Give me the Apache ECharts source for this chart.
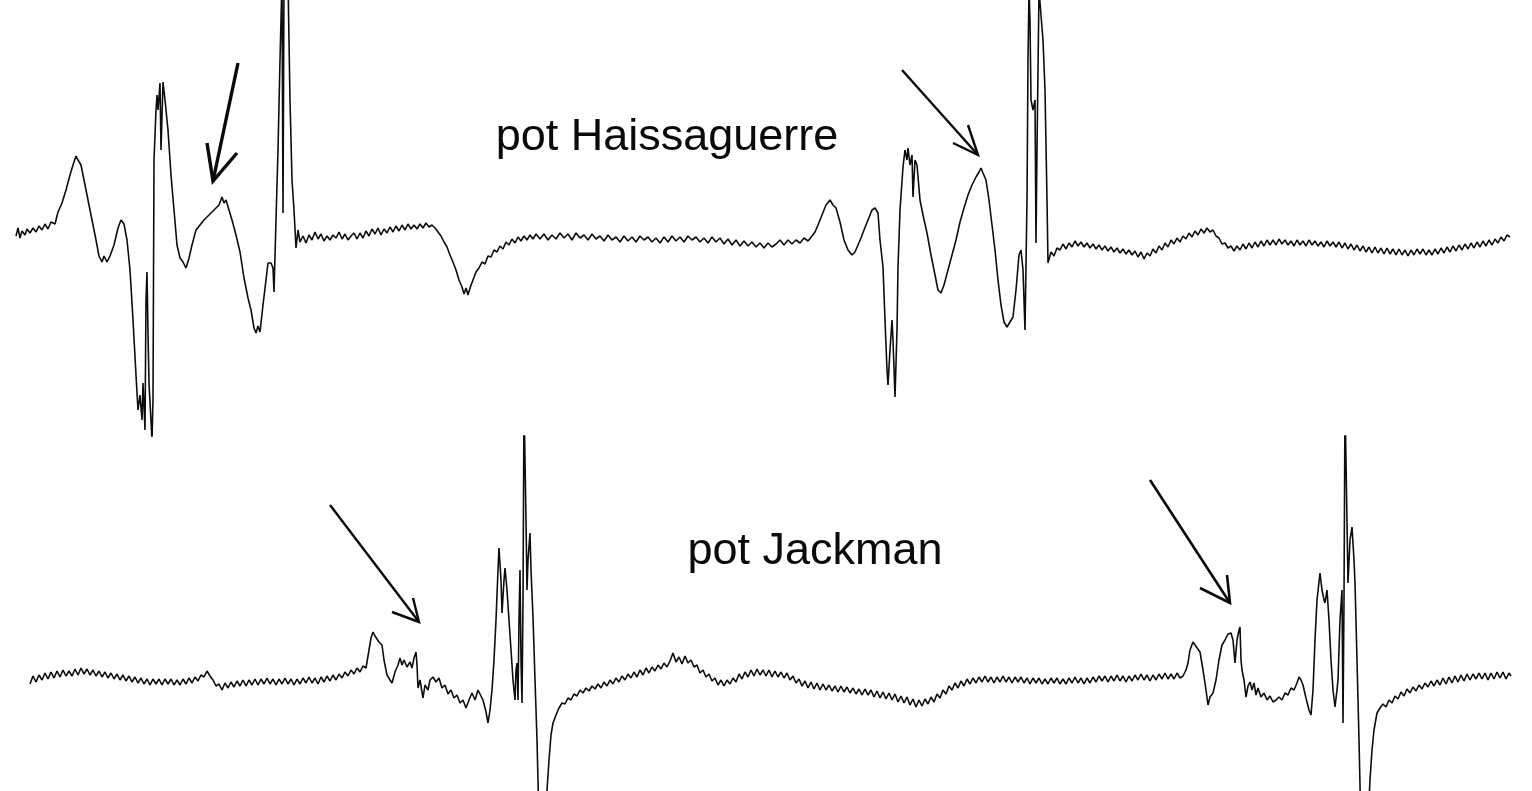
<!DOCTYPE html>
<html>
<head>
<meta charset="utf-8">
<script src="https://cdn.jsdelivr.net/npm/echarts@6/dist/echarts.min.js"></script>
<style>html,body{margin:0;padding:0;background:#fff;}#c{width:1532px;height:791px;}</style>
</head>
<body>
<div id="c"></div>
<script>
// Trace 1 ("pot Haissaguerre"): [time, amplitude]
const haissaguerre = [
[16,0],[18,8],[20,-2],[22,5],[25,1],[27,7],[30,3],[33,8],[36,4],[39,10],[42,6],[45,12],[48,7],[51,14],[55,12],
[58,24],[62,33],[66,46],[70,61],[73,71],[76,80],[78,76],[81,71],[84,56],[88,36],[92,16],[96,-4],[99,-20],[102,-26],[104,-20],[107,-26],[110,-20],[114,-9],[118,8],[121,16],[124,12],[127,-4],[130,-34],[133,-84],[136,-139],[138,-174],[140,-159],[142,-184],[143,-147],[144,-147],[145,-194],[146,-64],[147,-36],[148,-97],[149,-147],[151,-147],[152,-204],[153,-164],[154,76],[156,126],[157,141],[158,126],[160,153],[161,86],[163,154],[165,136],[168,106],[171,61],[174,26],[177,-9],[180,-22],[183,-26],[186,-32],[189,-22],[192,-9],[196,6],[200,11],[204,16],[208,20],[212,24],[216,28],[219,31],[222,39],[224,33],[226,36],[229,26],[232,16],[236,1],[240,-16],[244,-42],[248,-62],[251,-74],[254,-92],[256,-97],[258,-90],[260,-96],[263,-69],[266,-44],[268,-27],[271,-27],[273,-32],[274,-56],[276,16],[278,86],[280,176],[282,256],[283,23],[284,256],[286,256],[288,256],[290,136],[292,56],[294,26],[296,-12],[298,6],[300,-6],
[303,0],[306,-7],[309,1],[312,-4],[315,4],[318,-3],[321,2],[324,-5],[327,0],[330,-4],[333,1],[336,-2],[339,4],[342,-3],[345,2],[348,-4],[351,0],[354,3],[357,-3],[360,3],[363,-2],[366,5],[369,0],[372,7],[375,2],[378,8],[381,1],[384,7],[387,3],[390,9],[393,4],[396,10],[399,5],[402,11],[405,6],[408,12],[411,7],[414,11],[417,7],[420,12],[423,8],[426,13],[429,9],[432,11],[435,8],[438,4],[441,0],[444,-6],[447,-11],[450,-19],[453,-26],[456,-34],[459,-44],[462,-51],[464,-58],[466,-52],[468,-59],[470,-52],[473,-44],[476,-36],[479,-32],[482,-26],[485,-28],[488,-20],[491,-21],[494,-14],[497,-16],[500,-10],[503,-13],[506,-6],[509,-9],[512,-3],[515,-7],[518,-1],[521,-5],[524,0],[527,-4],[530,1],[533,-3],[536,2],
[540,-3],[544,2],[548,-4],[552,1],[556,-3],[560,3],[564,-2],[568,2],[572,-4],[576,3],[580,-2],[584,1],[588,-4],[592,2],[596,-3],[600,0],[604,-5],[608,1],[612,-4],[616,-1],[620,-6],[624,0],[628,-5],[632,-1],[636,-6],[640,0],[644,-4],[648,-1],[652,-6],[656,-2],[660,-7],[664,-1],[668,-6],[672,0],[676,-5],[680,-1],[684,-6],[688,0],[692,-4],[696,-1],[700,-6],[704,-2],[708,-7],[712,-1],[716,-6],[720,-2],[724,-8],[728,-3],[732,-9],[736,-4],[740,-10],[744,-5],[748,-10],[752,-6],[756,-11],[760,-7],[764,-12],[768,-7],[772,-11],[776,-8],[780,-4],[784,-9],[788,-4],[792,-8],[796,-4],[800,-7],[804,-2],[808,-5],[812,0],
[815,4],[818,11],[822,21],[826,31],[830,36],[833,31],[836,28],[840,14],[844,-4],[848,-14],[852,-19],[855,-16],[858,-9],[861,-2],[864,6],[868,16],[872,26],[875,28],[878,23],[880,-4],[883,-31],[885,-84],[887,-134],[888,-149],[890,-114],[892,-84],[893,-104],[895,-161],[897,-94],[898,-31],[900,26],[903,69],[905,86],[907,76],[908,88],[910,71],[912,81],[913,39],[915,76],[917,71],[920,36],[923,21],[927,3],[931,-19],[935,-39],[938,-54],[941,-57],[944,-49],[948,-34],[952,-19],[956,-4],[960,14],[964,28],[968,41],[972,51],[976,59],[979,64],[981,68],[983,63],[986,56],[989,36],[992,11],[995,-14],[998,-44],[1001,-69],[1004,-86],[1007,-91],[1010,-86],[1013,-81],[1016,-54],[1019,-19],[1021,-14],[1023,-34],[1025,-94],[1027,36],[1028,176],[1029,246],[1030,216],[1031,136],[1033,126],[1035,136],[1036,-7],[1037,86],[1039,246],[1041,246],[1043,196],[1045,146],[1047,36],[1048,-27],
[1051,-16],[1054,-20],[1057,-12],[1060,-14],[1063,-8],[1066,-13],[1069,-7],[1072,-11],[1075,-5],[1078,-10],[1081,-6],[1084,-11],[1087,-7],[1090,-12],[1093,-8],[1096,-13],[1099,-9],[1102,-14],[1105,-10],[1108,-15],[1111,-11],[1114,-16],[1117,-12],[1120,-17],[1123,-13],[1126,-18],[1129,-14],[1132,-19],[1135,-15],[1138,-21],[1141,-16],[1144,-23],[1147,-17],[1150,-20],[1153,-13],[1156,-17],[1159,-10],[1162,-14],[1165,-7],[1168,-11],[1171,-4],[1174,-8],[1177,-2],[1180,-6],[1183,0],[1186,-3],[1189,3],[1192,-1],[1195,5],[1198,1],[1201,7],[1204,3],[1207,8],[1210,4],[1213,6],[1216,0],[1219,-2],[1222,-8],[1225,-7],[1228,-12],[1231,-10],[1234,-15],[1237,-10],[1240,-14],[1243,-8],[1246,-13],[1249,-7],[1252,-12],[1255,-6],[1258,-11],[1261,-5],[1264,-10],[1267,-4],[1270,-9],[1273,-4],[1276,-9],[1279,-3],[1282,-8],[1285,-4],[1288,-9],[1291,-5],[1294,-10],[1297,-4],[1300,-9],[1303,-5],[1306,-10],[1309,-4],[1312,-9],[1315,-5],[1318,-10],[1321,-6],[1324,-11],[1327,-5],[1330,-10],[1333,-6],[1336,-11],[1339,-6],[1342,-12],[1345,-7],[1348,-13],[1351,-8],[1354,-14],[1357,-9],[1360,-15],[1363,-10],[1366,-16],[1369,-11],[1372,-17],[1375,-11],[1378,-17],[1381,-12],[1384,-18],[1387,-12],[1390,-18],[1393,-13],[1396,-19],[1399,-13],[1402,-19],[1405,-14],[1408,-20],[1411,-14],[1414,-19],[1417,-13],[1420,-18],[1423,-13],[1426,-19],[1429,-14],[1432,-19],[1435,-13],[1438,-18],[1441,-12],[1444,-17],[1447,-11],[1450,-16],[1453,-10],[1456,-15],[1459,-9],[1462,-14],[1465,-8],[1468,-13],[1471,-7],[1474,-12],[1477,-6],[1480,-11],[1483,-5],[1486,-10],[1489,-4],[1492,-9],[1495,-3],[1498,-7],[1501,-1],[1504,-5],[1507,1],[1510,-1]
];

// Trace 2 ("pot Jackman"): [time, amplitude]
const jackman = [
[30,-4],[33,4],[36,-2],[39,5],[42,0],[45,7],[48,1],[51,8],[54,2],[57,9],[60,3],[63,10],[66,4],[69,9],[72,4],[75,11],[78,5],[81,12],[84,6],[87,11],[90,5],[93,10],[96,4],[99,9],[102,3],[105,8],[108,2],[111,7],[114,1],[117,6],[120,0],[123,5],[126,-1],[129,4],[132,-2],[135,3],[138,-3],[141,2],[144,-4],[147,1],[150,-5],[153,1],[156,-4],[159,1],[162,-5],[165,1],[168,-4],[171,1],[174,-5],[177,0],[180,-5],[183,1],[186,-4],[189,2],[192,-3],[195,3],[198,-1],[201,5],[204,3],[207,9],[210,4],[213,0],[216,-6],[219,-4],[222,-10],[225,-3],[228,-8],[231,-2],[234,-7],[237,-1],[240,-6],[243,0],[246,-6],[249,0],[252,-5],[255,1],[258,-5],[261,1],[264,-4],[267,2],[270,-4],[273,1],[276,-5],[279,1],[282,-4],[285,2],[288,-4],[291,1],[294,-5],[297,1],[300,-4],[303,2],[306,-3],[309,3],[312,-3],[315,2],[318,-4],[321,3],[324,-2],[327,4],[330,-1],[333,5],[336,0],[339,6],[342,2],[345,8],[348,4],[351,10],[354,6],[357,12],[360,8],[363,14],[366,12],
[369,30],[371,42],[373,48],[375,44],[377,46],[379,38],[382,35],[384,20],[387,5],[390,0],[392,-3],[395,8],[398,15],[400,22],[402,15],[404,20],[407,13],[410,18],[412,12],[414,22],[416,28],[417,15],[418,-8],[420,0],[423,-18],[425,-5],[428,-10],[430,0],[433,3],[436,-2],[439,2],[442,-8],[445,-5],[448,-14],[451,-10],[454,-18],[457,-15],[460,-23],[463,-20],[466,-28],[469,-20],[472,-13],[475,-20],[478,-10],[480,-12],[483,-20],[486,-32],[488,-43],[490,-30],[492,-10],[494,20],[496,60],[498,110],[499,132],[501,100],[502,67],[504,100],[505,112],[507,90],[509,60],[511,30],[513,0],[515,-20],[516,10],[517,17],[518,-20],[519,60],[520,110],[521,20],[522,-23],[523,80],[524,280],[525,280],[526,160],[527,90],[528,120],[530,147],[531,110],[533,63],[535,0],[537,-60],[539,-140],[541,-150],[543,-140],[545,-150],[547,-110],[549,-80],[551,-55],[553,-43],[556,-35],[559,-28],[562,-23],[565,-24],[568,-18],[571,-20],[574,-14],[577,-16],[580,-10],[583,-13],[586,-8],[589,-11],[592,-6],[595,-9],[598,-4],[601,-8],[604,-2],[607,-6],[610,0],[613,-4],[616,2],[619,-2],[622,4],[625,0],[628,6],[631,2],[634,8],[637,3],[640,10],[643,5],[646,12],[649,7],[652,13],[655,9],[658,15],[661,11],[664,17],[667,13],[670,19],[673,27],[676,18],[679,23],[682,16],[685,24],[688,17],[691,20],[694,13],[697,15],[700,7],[703,10],[706,3],[709,6],[712,-1],[715,2],[718,-5],[721,0],[724,-6],[727,0],[730,-4],[733,2],[736,-2],[739,6],[742,1],[745,8],[748,3],[751,10],[754,4],[757,11],[760,5],[763,10],[766,4],[769,10],[772,3],[775,9],[778,3],[781,8],[784,2],[787,7],[790,0],[793,4],[796,-3],[799,1],[802,-6],[805,-1],[808,-8],[811,-2],[814,-9],[817,-3],[820,-10],[823,-4],[826,-10],[829,-5],[832,-11],[835,-6],[838,-12],[841,-6],[844,-12],[847,-7],[850,-13],[853,-8],[856,-14],[859,-9],[862,-15],[865,-9],[868,-15],[871,-10],[874,-17],[877,-11],[880,-18],[883,-12],[886,-19],[889,-13],[892,-20],[895,-14],[898,-22],[901,-16],[904,-23],[907,-17],[910,-25],[913,-19],[916,-27],[919,-20],[922,-26],[925,-19],[928,-24],[931,-17],[934,-22],[937,-14],[940,-18],[943,-10],[946,-14],[949,-6],[952,-10],[955,-3],[958,-8],[961,-1],[964,-6],[967,1],[970,-4],[973,2],[976,-3],[979,3],[982,-2],[985,4],[988,-2],[991,3],[994,-3],[997,3],[1000,-2],[1003,4],[1006,-2],[1009,3],[1012,-3],[1015,3],[1018,-2],[1021,3],[1024,-3],[1027,2],[1030,-4],[1033,2],[1036,-3],[1039,2],[1042,-4],[1045,1],[1048,-4],[1051,2],[1054,-3],[1057,2],[1060,-4],[1063,1],[1066,-4],[1069,2],[1072,-3],[1075,3],[1078,-3],[1081,2],[1084,-4],[1087,2],[1090,-3],[1093,3],[1096,-2],[1099,4],[1102,-1],[1105,4],[1108,-2],[1111,4],[1114,-1],[1117,5],[1120,-1],[1123,4],[1126,-2],[1129,4],[1132,-1],[1135,5],[1138,0],[1141,6],[1144,0],[1147,5],[1150,-1],[1153,5],[1156,0],[1159,6],[1162,1],[1165,7],[1168,1],[1171,6],[1174,1],[1177,7],[1180,2],[1183,4],[1186,10],
[1188,17],[1190,30],[1193,38],[1195,35],[1197,37],[1200,28],[1203,10],[1206,-10],[1208,-25],[1210,-17],[1213,-13],[1216,0],[1219,20],[1222,35],[1225,40],[1228,46],[1231,47],[1233,40],[1235,17],[1237,40],[1239,50],[1240,53],[1241,20],[1242,10],[1244,0],[1246,-17],[1248,-6],[1250,-2],[1252,-10],[1254,-3],[1256,-15],[1258,-8],[1261,-17],[1264,-13],[1267,-20],[1270,-16],[1273,-22],[1276,-20],[1279,-17],[1282,-20],[1285,-13],[1288,-15],[1291,-8],[1294,-10],[1297,-3],[1299,3],[1301,0],[1303,-5],[1306,-18],[1309,-30],[1311,-35],[1313,-10],[1315,40],[1317,80],[1320,107],[1322,90],[1324,80],[1325,77],[1327,90],[1329,60],[1331,20],[1333,-10],[1335,-27],[1337,-10],[1338,0],[1340,60],[1342,90],[1343,-43],[1344,80],[1345,280],[1347,280],[1348,97],[1350,140],[1352,153],[1354,120],[1355,97],[1357,20],[1359,-60],[1361,-150],[1365,-150],[1368,-140],[1370,-100],[1372,-70],[1374,-50],[1377,-33],[1380,-28],[1383,-24],[1386,-27],[1389,-20],[1392,-23],[1395,-16],[1398,-19],[1401,-12],[1404,-16],[1407,-9],[1410,-13],[1413,-7],[1416,-11],[1419,-5],[1422,-9],[1425,-3],[1428,-7],[1431,-1],[1434,-6],[1437,0],[1440,-5],[1443,2],[1446,-4],[1449,3],[1452,-3],[1455,4],[1458,-2],[1461,5],[1464,-1],[1467,6],[1470,0],[1473,6],[1476,1],[1479,7],[1482,1],[1485,7],[1488,0],[1491,7],[1494,1],[1497,8],[1500,2],[1503,8],[1506,1],[1509,7],[1511,4]
];

// Arrows: tail, tip, barbs (same units as the trace they point at)
const arrowsTop = [
  { tail: [238,173], tip: [213,55], barbA: [207,93], barbB: [237,83], width: 3.4 },
  { tail: [902,166], tip: [978,81], barbA: [968,111], barbB: [953,93], width: 2.4 }
];
const arrowsBottom = [
  { tail: [330,175], tip: [419,58], barbA: [413,82], barbB: [392,68], width: 2.4 },
  { tail: [1150,200], tip: [1230,77], barbA: [1227,105], barbB: [1200,92], width: 2.6 }
];

const labels = ['pot Haissaguerre', 'pot Jackman'];

function arrowLines(list) {
  const out = [];
  list.forEach(a => {
    const ls = { width: a.width };
    out.push({ coords: [a.tail, a.tip], lineStyle: ls });
    out.push({ coords: [a.barbA, a.tip, a.barbB], lineStyle: ls });
  });
  return out;
}

const chart = echarts.init(document.getElementById('c'), null, { renderer: 'canvas' });
const axisOff = { show: false };
chart.setOption({
  animation: false,
  backgroundColor: '#ffffff',
  grid: [
    { left: 0, right: 0, top: 0, height: 436 },
    { left: 0, right: 0, top: 436, height: 355 }
  ],
  xAxis: [
    Object.assign({ type: 'value', min: 0, max: 1532, gridIndex: 0 }, axisOff),
    Object.assign({ type: 'value', min: 0, max: 1532, gridIndex: 1 }, axisOff)
  ],
  yAxis: [
    Object.assign({ type: 'value', min: -200, max: 236, gridIndex: 0 }, axisOff),
    Object.assign({ type: 'value', min: -111, max: 244, gridIndex: 1 }, axisOff)
  ],
  series: [
    { type: 'line', xAxisIndex: 0, yAxisIndex: 0, data: haissaguerre, showSymbol: false, symbol: 'none',
      lineStyle: { color: '#0d0d0d', width: 1.6 }, clip: true },
    { type: 'line', xAxisIndex: 1, yAxisIndex: 1, data: jackman, showSymbol: false, symbol: 'none',
      lineStyle: { color: '#0d0d0d', width: 1.6 }, clip: true },
    { type: 'lines', coordinateSystem: 'cartesian2d', xAxisIndex: 0, yAxisIndex: 0, polyline: true,
      data: arrowLines(arrowsTop), lineStyle: { color: '#0a0a0a', opacity: 1 } },
    { type: 'lines', coordinateSystem: 'cartesian2d', xAxisIndex: 1, yAxisIndex: 1, polyline: true,
      data: arrowLines(arrowsBottom), lineStyle: { color: '#0a0a0a', opacity: 1 } }
  ],
  graphic: [
    { type: 'text', x: 667, y: 138, style: { text: labels[0], font: '45px "Liberation Sans", Arial, sans-serif', fill: '#0a0a0a', align: 'center', verticalAlign: 'middle' } },
    { type: 'text', x: 815, y: 552, style: { text: labels[1], font: '45px "Liberation Sans", Arial, sans-serif', fill: '#0a0a0a', align: 'center', verticalAlign: 'middle' } }
  ]
});
</script>
</body>
</html>
